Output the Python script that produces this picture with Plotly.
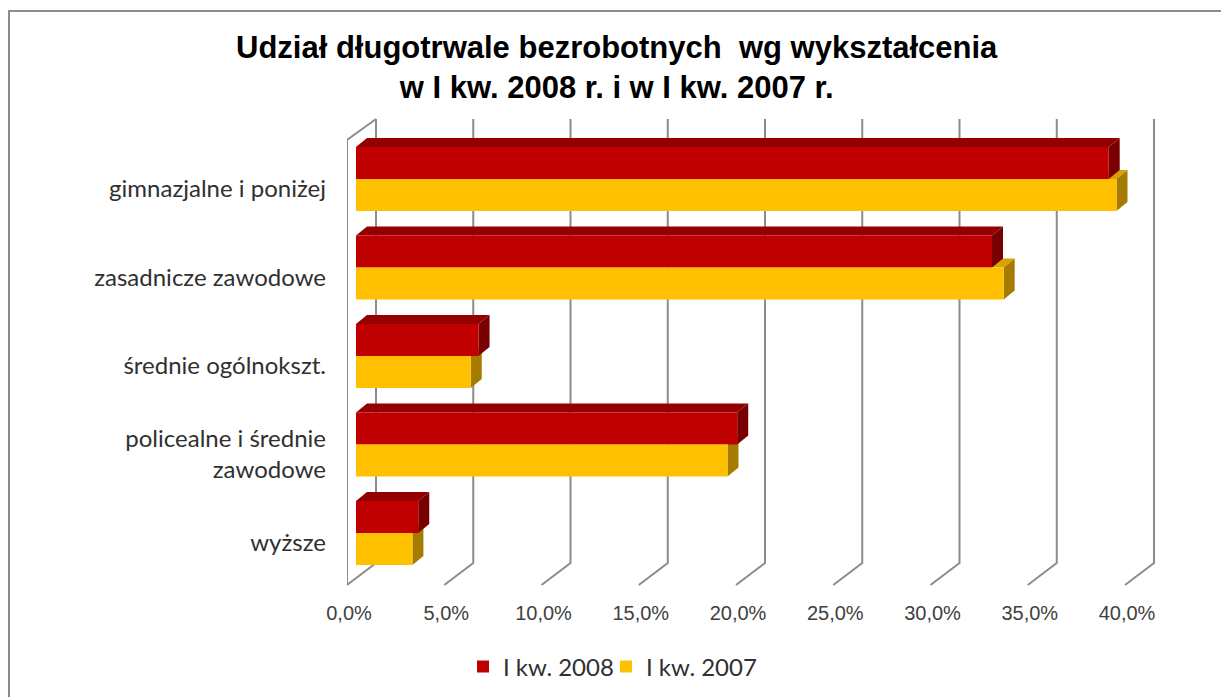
import plotly.graph_objects as go

categories = ["gimnazjalne i poniżej", "zasadnicze zawodowe", "średnie ogólnokszt.",
              "policealne i średnie<br>zawodowe", "wyższe"]
series_names = ["I kw. 2008", "I kw. 2007"]
values_2008 = [38.7, 32.7, 6.3, 19.6, 3.2]
values_2007 = [39.1, 33.3, 5.9, 19.1, 2.9]
tick_values = [0, 5, 10, 15, 20, 25, 30, 35, 40]
tick_labels = ["0,0%", "5,0%", "10,0%", "15,0%", "20,0%", "25,0%", "30,0%", "35,0%", "40,0%"]
title_text = "Udział długotrwale bezrobotnych  wg wykształcenia<br>w I kw. 2008 r. i w I kw. 2007 r."

OFF = 8                     # page body margin
W, H = 1229 - OFF, 697 - OFF
# pixel layout (style), expressed in figure coordinates
X0_PX = 356.0 - OFF         # value 0 on the front plane
X_SCALE = 19.45             # px per percentage point
Y0_PX = 179.0 - OFF         # centre of first category
Y_STEP = 88.5               # px per category
L, R, T, B = 347 - OFF, 1160 - OFF, 116 - OFF, 590 - OFF

def px2x(px):
    return (px - X0_PX) / X_SCALE

def px2y(py):
    return (py - Y0_PX) / Y_STEP

DX = 11 / X_SCALE   # bar depth (x)
DY = 9 / Y_STEP     # bar depth (y, upward on screen)
BW = 0.3616         # single bar width (category units)

red, red_top, red_side = "#C00000", "#940000", "#780000"
yel, yel_top, yel_side = "#FFC000", "#D9A200", "#A67C00"

idx = list(range(len(categories)))
fig = go.Figure()
fig.add_trace(go.Bar(y=idx, x=values_2008, orientation="h", name=series_names[0],
                     marker=dict(color=red, line=dict(width=0)), legend="legend"))
fig.add_trace(go.Bar(y=idx, x=values_2007, orientation="h", name=series_names[1],
                     marker=dict(color=yel, line=dict(width=0)), legend="legend2"))

shapes = []
grid_col = "#8C8C8C"
back_dx = 20 / X_SCALE
front_dx = -9 / X_SCALE
yb_top = px2y(119 - OFF)
yb_bot = px2y(563 - OFF)
yf_bot = px2y(585 - OFF)
yf_top = px2y(140 - OFF)
# left wall
shapes.append(dict(type="path", xref="x", yref="y", layer="below",
                   path=f"M{front_dx},{yf_bot} L{front_dx},{yf_top} L{back_dx},{yb_top}",
                   line=dict(color=grid_col, width=2)))
for t in tick_values:
    shapes.append(dict(type="path", xref="x", yref="y", layer="below",
                       path=f"M{t+back_dx},{yb_top} L{t+back_dx},{yb_bot} L{t+front_dx},{yf_bot}",
                       line=dict(color=grid_col, width=2)))

def faces(v, top_y, top_c, side_c):
    bot_y = top_y + BW
    top = f"M0,{top_y} L{DX},{top_y-DY} L{v+DX},{top_y-DY} L{v},{top_y} Z"
    side = f"M{v},{top_y} L{v+DX},{top_y-DY} L{v+DX},{bot_y-DY} L{v},{bot_y} Z"
    return [dict(type="path", xref="x", yref="y", layer="below", path=top,
                 fillcolor=top_c, line=dict(width=0)),
            dict(type="path", xref="x", yref="y", layer="below", path=side,
                 fillcolor=side_c, line=dict(width=0))]

for i in idx:
    shapes += faces(values_2007[i], i, yel_top, yel_side)
for i in idx:
    shapes += faces(values_2008[i], i - BW, red_top, red_side)

# outer border
pw, ph = R - L, B - T
shapes.append(dict(type="rect", xref="paper", yref="paper",
                   x0=(9 - OFF - L) / pw, x1=(W + 20 - L) / pw,
                   y0=(B - (H + 20)) / ph, y1=(B - (11 - OFF)) / ph,
                   line=dict(color="#8C8C8C", width=2), fillcolor="rgba(0,0,0,0)"))

legend_font = dict(family="Lato", size=24, color="#303030")
def legend_at(square_left_px):
    return dict(orientation="h", x=(square_left_px - 15 - OFF) / W, xref="container",
                xanchor="left", y=(H - (667 - OFF)) / H, yref="container",
                yanchor="middle", font=legend_font, itemwidth=30,
                bgcolor="rgba(0,0,0,0)", borderwidth=0)

fig.update_layout(
    width=W, height=H,
    margin=dict(l=L, r=W - R, t=T, b=H - B, pad=0),
    paper_bgcolor="white", plot_bgcolor="rgba(0,0,0,0)",
    barmode="group", bargap=0.277, bargroupgap=0,
    shapes=shapes,
    showlegend=True,
    legend=legend_at(478),
    legend2=legend_at(621),
    annotations=[dict(text=title_text, xref="paper", yref="paper",
                      x=(617 - OFF - L) / pw, y=(B - (67 - OFF)) / ph,
                      xanchor="center", yanchor="middle", showarrow=False,
                      align="center",
                      font=dict(family="Liberation Sans", size=31, color="black",
                                weight="bold"))],
    xaxis=dict(range=[px2x(L), px2x(R)], tickvals=tick_values, ticktext=tick_labels,
               showgrid=False, zeroline=False, showline=False, ticks="",
               ticklabelshift=-7, ticklabelstandoff=9,
               tickfont=dict(family="Liberation Sans", size=20, color="#404040")),
    yaxis=dict(range=[px2y(B), px2y(T)], tickvals=idx, ticktext=categories,
               showgrid=False, zeroline=False, showline=False, ticks="",
               ticklabelstandoff=20, ticklabelshift=-10,
               tickfont=dict(family="Lato", size=24, color="#303030")),
)

fig.write_html("out.html")
